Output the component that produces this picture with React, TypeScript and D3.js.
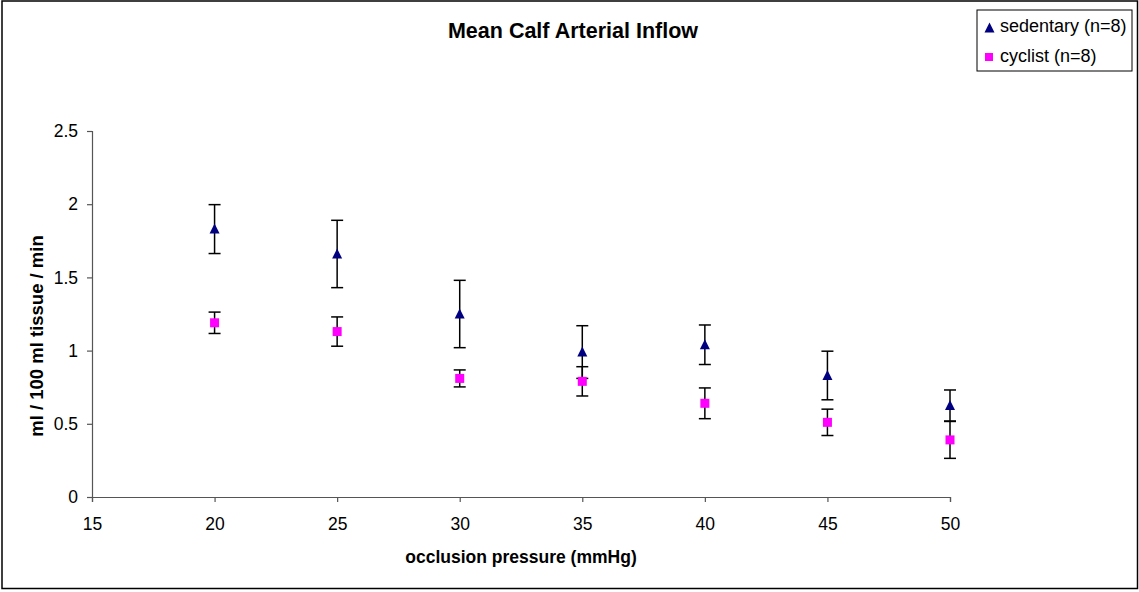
import { useEffect, useRef } from "react";
import * as d3 from "d3";

const pressures = [20, 25, 30, 35, 40, 45, 50];
const sedentaryMean = [1.83, 1.66, 1.25, 0.99, 1.04, 0.83, 0.625];
const sedentaryErr = [0.167, 0.23, 0.23, 0.18, 0.135, 0.166, 0.106];
const cyclistMean = [1.19, 1.13, 0.81, 0.79, 0.64, 0.51, 0.39];
const cyclistErr = [0.073, 0.1, 0.058, 0.1, 0.105, 0.09, 0.126];
const xTicks = [15, 20, 25, 30, 35, 40, 45, 50];
const yTicks = [0, 0.5, 1, 1.5, 2, 2.5];

const W = 1139;
const H = 592;
const FONT = "'Liberation Sans', Arial, sans-serif";

export default function App() {
  const ref = useRef<SVGSVGElement>(null);

  useEffect(() => {
    if (!ref.current) return;
    const svg = d3.select(ref.current);
    svg.selectAll("*").remove();

    // outer frame
    svg.append("rect").attr("x", 2).attr("y", 1).attr("width", 1135.5).attr("height", 587.5)
      .attr("fill", "#fff").attr("stroke", "#000").attr("stroke-width", 1.5);

    const x = d3.scaleLinear().domain([15, 50]).range([92, 950]);
    const y = d3.scaleLinear().domain([0, 2.5]).range([497, 131]);

    const xAxis = svg.append("g").attr("transform", "translate(0,497)")
      .call(d3.axisBottom(x).tickValues(xTicks).tickSize(5).tickPadding(16).tickFormat(d3.format("d")));
    const yAxis = svg.append("g").attr("transform", "translate(92,0)")
      .call(d3.axisLeft(y).tickValues(yTicks).tickSize(5).tickPadding(9).tickFormat((d) => String(d)));
    [xAxis, yAxis].forEach((g) => {
      g.attr("font-size", null).attr("font-family", null);
      g.select(".domain").attr("stroke", "#555").attr("stroke-width", 1.2);
      g.selectAll(".tick line").attr("stroke", "#555").attr("stroke-width", 1.2);
      g.selectAll(".tick text").attr("font-family", FONT).attr("font-size", 17.5).attr("fill", "#000");
    });

    svg.append("text").attr("x", 573).attr("y", 38).attr("text-anchor", "middle")
      .attr("font-family", FONT).attr("font-size", 21.5).attr("font-weight", "bold")
      .text("Mean Calf Arterial Inflow");
    svg.append("text").attr("x", 521).attr("y", 563).attr("text-anchor", "middle")
      .attr("font-family", FONT).attr("font-size", 17.5).attr("font-weight", "bold")
      .text("occlusion pressure (mmHg)");
    svg.append("text").attr("transform", "translate(43,336) rotate(-90)").attr("text-anchor", "middle")
      .attr("font-family", FONT).attr("font-size", 18.5).attr("font-weight", "bold")
      .text("ml / 100 ml tissue / min");

    const errorBars = (means: number[], errs: number[]) => {
      const g = svg.append("g").attr("stroke", "#000").attr("stroke-width", 1.5);
      pressures.forEach((p, i) => {
        const cx = x(p);
        const top = y(means[i] + errs[i]);
        const bot = y(means[i] - errs[i]);
        g.append("line").attr("x1", cx).attr("x2", cx).attr("y1", top).attr("y2", bot);
        g.append("line").attr("x1", cx - 6).attr("x2", cx + 6).attr("y1", top).attr("y2", top);
        g.append("line").attr("x1", cx - 6).attr("x2", cx + 6).attr("y1", bot).attr("y2", bot);
      });
    };
    errorBars(sedentaryMean, sedentaryErr);
    errorBars(cyclistMean, cyclistErr);

    const tri = "M0,-5.5L5,4.5L-5,4.5Z";
    svg.append("g").selectAll("path").data(pressures).join("path")
      .attr("d", tri).attr("fill", "#000080")
      .attr("transform", (p, i) => `translate(${x(p)},${y(sedentaryMean[i])})`);
    svg.append("g").selectAll("rect").data(pressures).join("rect")
      .attr("x", (p) => x(p) - 4.5).attr("y", (p, i) => y(cyclistMean[i]) - 4.5)
      .attr("width", 9).attr("height", 9).attr("fill", "#ff00ff");

    // legend
    const lg = svg.append("g");
    lg.append("rect").attr("x", 977).attr("y", 10).attr("width", 155).attr("height", 61)
      .attr("fill", "#fff").attr("stroke", "#000").attr("stroke-width", 1);
    lg.append("path").attr("d", tri).attr("fill", "#000080").attr("transform", "translate(989.5,28)");
    lg.append("rect").attr("x", 985).attr("y", 53).attr("width", 8).attr("height", 8).attr("fill", "#ff00ff");
    lg.append("text").attr("x", 1000).attr("y", 32).attr("font-family", FONT).attr("font-size", 18).text("sedentary (n=8)");
    lg.append("text").attr("x", 1000).attr("y", 62).attr("font-family", FONT).attr("font-size", 18).text("cyclist (n=8)");
  }, []);

  return <svg ref={ref} width={W} height={H} style={{ display: "block", position: "absolute", left: 0, top: 0 }} />;
}
